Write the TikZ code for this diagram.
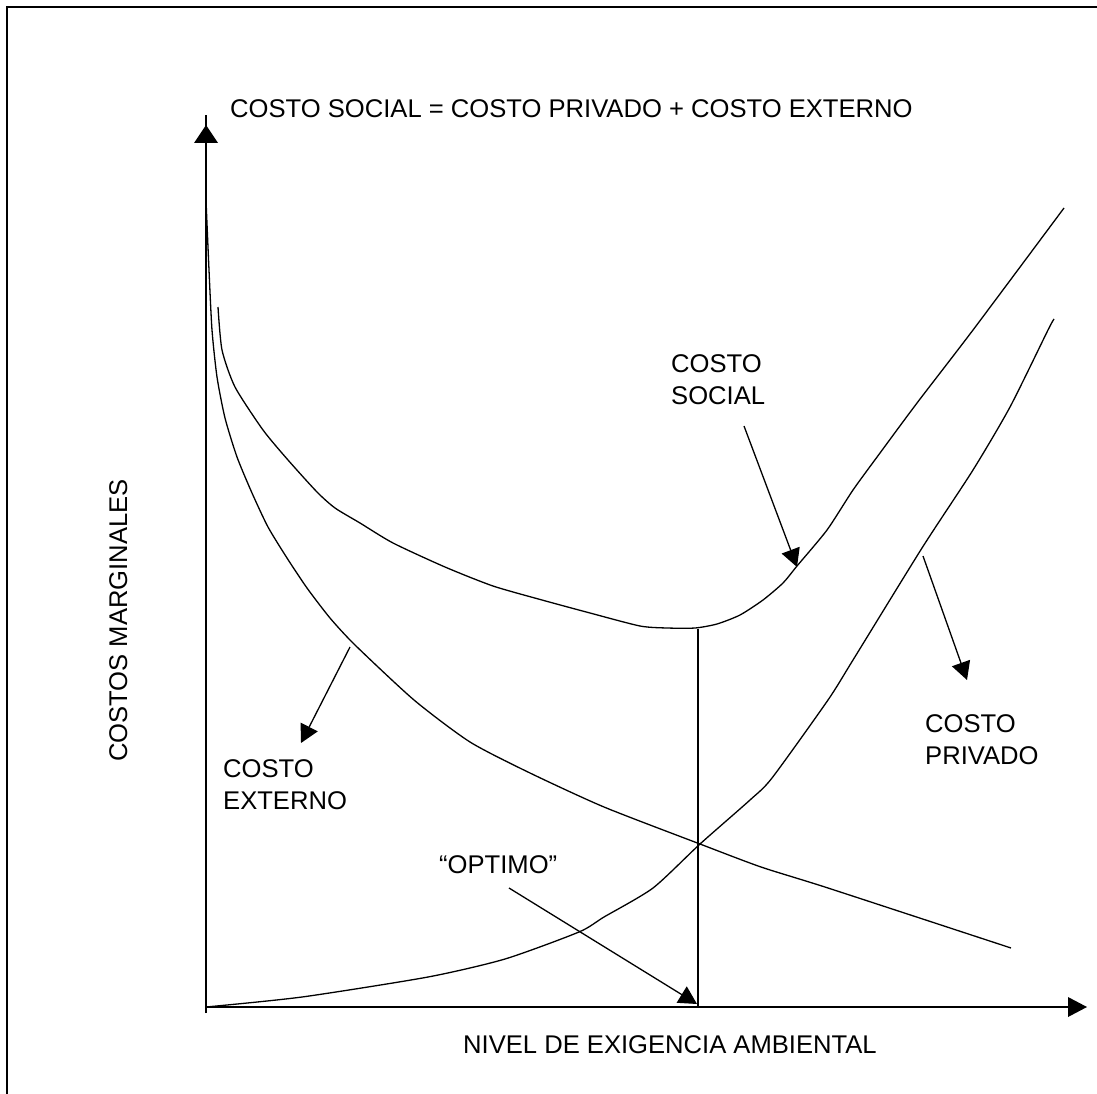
\documentclass[tikz,border=0pt]{standalone}
\usepackage{fontspec}
\setmainfont{Liberation Sans}
\usetikzlibrary{arrows.meta}
\begin{document}
\begin{tikzpicture}[x=1pt,y=-1pt,
  lbl/.style={inner sep=0pt, anchor=base west, font=\fontsize{25.6}{32}\selectfont},
  curve/.style={line width=1.3pt, line join=round},
  axis/.style={line width=1.8pt},
  pointer/.style={line width=1.3pt, -{Triangle[length=18pt,width=19pt]}},
  head/.style={fill=black, draw=none}]
\useasboundingbox (0,0) rectangle (1097,1094);
% frame
\draw[line width=2pt] (7,1100) -- (7,7) -- (1100,7);
% axes
\coordinate (O) at (206,1007);
\coordinate (Ytop) at (206,115);
\coordinate (Xend) at (1070,1007);
\draw[axis] (206,1013) -- (Ytop);
\fill[head] (206,125) -- (194,143) -- (218,143) -- cycle;
\draw[axis] (O) -- (Xend);
\fill[head] (1087,1007) -- (1068,997) -- (1068,1017) -- cycle;
% curves
\draw[curve] plot[smooth, tension=0.4] coordinates {(206,1007) (302,997) (428,977) (505,959) (579,932) (604,917) (653,888) (700,844) (750,800) (772,778) (828,700) (853,660) (922,548) (973,470) (1010,407) (1048,330) (1054,319)};
\draw[curve] plot[smooth, tension=0.4] coordinates {(206,200) (209,270) (212,330) (217,377) (225,418) (237,457) (252,493) (268,527) (287,558) (307,588) (330,618) (355,645) (414,700) (470,742) (530,773) (604,807) (700,844) (761,867) (828,888) (1011,948)};
\draw[curve] plot[smooth, tension=0.4] coordinates {(218,307) (222,350) (235,387) (263,430) (288,460) (317,492) (335,508) (360,523) (393,543) (445,567) (493,586) (542,600) (590,613) (640,626) (667,628) (695,628) (717,624) (740,615) (763,600) (783,583) (797,566) (827,530) (853,490) (880,453) (917,403) (973,330) (1064,208)};
% optimum vertical line
\coordinate (Vtop) at (698,629);
\coordinate (Vbot) at (698,1007);
\draw[curve] (Vtop) -- (Vbot);
% labels
\node[lbl] (title) at (230,118) {COSTO SOCIAL = COSTO PRIVADO + COSTO EXTERNO};
\node[lbl] (social) at (671,372) {\begin{tabular}[t]{@{}l@{}}COSTO\\SOCIAL\end{tabular}};
\node[lbl] (externo) at (223,777) {\begin{tabular}[t]{@{}l@{}}COSTO\\EXTERNO\end{tabular}};
\node[lbl] (privado) at (925,732) {\begin{tabular}[t]{@{}l@{}}COSTO\\PRIVADO\end{tabular}};
\node[lbl] (optimo) at (439,873) {“OPTIMO”};
\node[lbl] (nivel) at (463,1053) {NIVEL DE EXIGENCIA AMBIENTAL};
\node[lbl, rotate=90] (marg) at (127,762) {COSTOS MARGINALES};
% pointers
\coordinate (sA) at (744,426); \coordinate (sB) at (797,567);
\coordinate (pA) at (923,556); \coordinate (pB) at (967,680);
\coordinate (eA) at (350,647); \coordinate (eB) at (301,743);
\coordinate (oA) at (509,888); \coordinate (oB) at (697,1004);
\draw[pointer] (sA) -- (sB);
\draw[pointer] (pA) -- (pB);
\draw[pointer] (eA) -- (eB);
\draw[pointer] (oA) -- (oB);
\end{tikzpicture}
\end{document}
